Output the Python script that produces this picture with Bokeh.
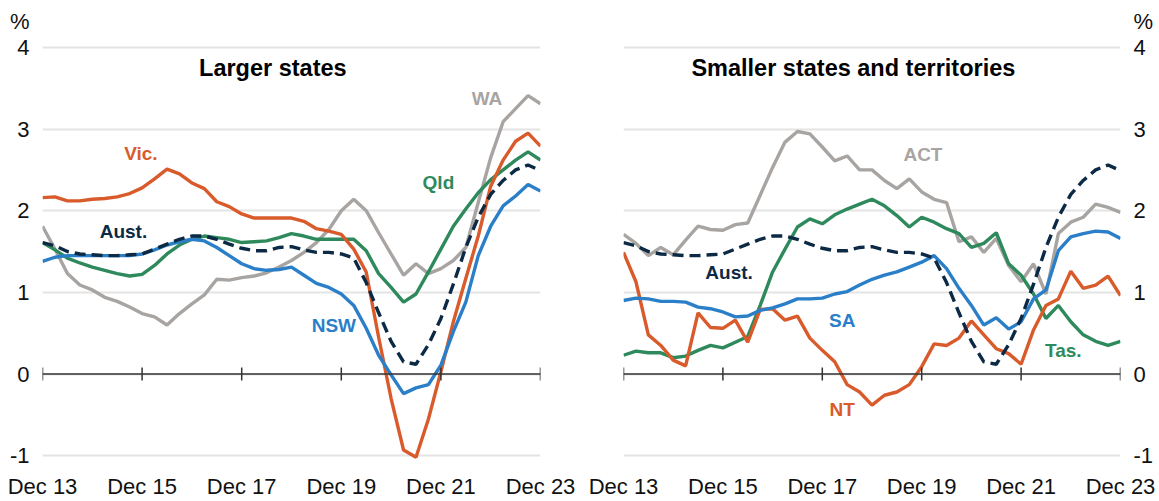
import pandas as pd
from bokeh.plotting import figure
from bokeh.layouts import row
from bokeh.models import Span, FixedTicker
from bokeh.embed import file_html
from bokeh.resources import INLINE
from bokeh.core.properties import value

# ---------------- data (quarterly, Dec 2013 - Dec 2023, %) ----------------
quarters = [str(q) for q in pd.period_range("2013Q4", "2023Q4", freq="Q")]

aust = [1.61, 1.57, 1.50, 1.47, 1.46, 1.45, 1.45, 1.46, 1.47, 1.53, 1.59,
        1.65, 1.69, 1.69, 1.65, 1.59, 1.54, 1.51, 1.51, 1.55, 1.56,
        1.52, 1.49, 1.49, 1.47, 1.42, 1.12, 0.75, 0.40, 0.15, 0.12,
        0.36, 0.68, 1.10, 1.55, 1.92, 2.20, 2.37, 2.50, 2.56, 2.49]

vic = [2.16, 2.17, 2.12, 2.12, 2.14, 2.15, 2.17, 2.21, 2.28, 2.39, 2.51,
       2.45, 2.34, 2.27, 2.11, 2.05, 1.96, 1.91, 1.91, 1.91, 1.91,
       1.87, 1.78, 1.75, 1.71, 1.53, 1.25, 0.45, -0.30, -0.93, -1.02,
       -0.55, 0.03, 0.64, 1.17, 1.69, 2.30, 2.62, 2.85, 2.95, 2.79]

nsw = [1.38, 1.43, 1.45, 1.45, 1.45, 1.45, 1.45, 1.45, 1.47, 1.52, 1.58,
       1.62, 1.65, 1.63, 1.55, 1.45, 1.35, 1.29, 1.27, 1.28, 1.31,
       1.21, 1.11, 1.06, 0.98, 0.84, 0.56, 0.23, -0.01, -0.24, -0.17,
       -0.13, 0.11, 0.52, 0.88, 1.45, 1.81, 2.06, 2.18, 2.32, 2.24]

qld = [1.61, 1.52, 1.42, 1.36, 1.31, 1.27, 1.23, 1.20, 1.22, 1.33, 1.47,
       1.58, 1.65, 1.69, 1.67, 1.65, 1.61, 1.62, 1.63, 1.67, 1.72,
       1.69, 1.65, 1.65, 1.65, 1.65, 1.51, 1.23, 1.06, 0.88, 0.98,
       1.25, 1.53, 1.81, 2.02, 2.22, 2.38, 2.50, 2.62, 2.72, 2.62]

wa = [1.81, 1.53, 1.23, 1.09, 1.03, 0.94, 0.89, 0.82, 0.74, 0.70, 0.60,
      0.74, 0.86, 0.97, 1.16, 1.15, 1.18, 1.20, 1.24, 1.31, 1.39,
      1.49, 1.61, 1.77, 2.00, 2.14, 2.00, 1.73, 1.47, 1.21, 1.35,
      1.23, 1.29, 1.39, 1.55, 2.10, 2.65, 3.09, 3.25, 3.41, 3.31]

act = [1.71, 1.60, 1.45, 1.55, 1.46, 1.64, 1.81, 1.77, 1.76, 1.83, 1.85,
       2.19, 2.53, 2.84, 2.97, 2.94, 2.78, 2.61, 2.67, 2.50, 2.50,
       2.37, 2.27, 2.39, 2.23, 2.14, 2.10, 1.62, 1.68, 1.49, 1.66,
       1.33, 1.13, 1.35, 0.98, 1.72, 1.86, 1.92, 2.08, 2.04, 1.98]

sa = [0.90, 0.93, 0.92, 0.89, 0.89, 0.88, 0.82, 0.80, 0.76, 0.70, 0.71,
      0.78, 0.81, 0.86, 0.92, 0.92, 0.93, 0.98, 1.01, 1.09, 1.16,
      1.21, 1.25, 1.31, 1.37, 1.45, 1.29, 1.05, 0.84, 0.60, 0.69,
      0.55, 0.64, 0.92, 1.03, 1.51, 1.68, 1.72, 1.75, 1.74, 1.66]

tas = [0.23, 0.28, 0.26, 0.26, 0.20, 0.22, 0.29, 0.35, 0.32, 0.39, 0.46,
       0.84, 1.25, 1.53, 1.80, 1.90, 1.84, 1.95, 2.02, 2.08, 2.14,
       2.06, 1.94, 1.80, 1.92, 1.86, 1.78, 1.72, 1.55, 1.60, 1.73,
       1.35, 1.21, 0.98, 0.68, 0.84, 0.64, 0.48, 0.40, 0.35, 0.40]

nt = [1.49, 1.13, 0.48, 0.35, 0.17, 0.10, 0.75, 0.57, 0.56, 0.66, 0.39,
      0.79, 0.80, 0.66, 0.71, 0.44, 0.29, 0.15, -0.13, -0.22, -0.38,
      -0.26, -0.22, -0.13, 0.09, 0.37, 0.35, 0.44, 0.65, 0.48, 0.31,
      0.25, 0.12, 0.54, 0.84, 0.92, 1.26, 1.05, 1.09, 1.20, 0.96]

tick_quarters = ["2013Q4", "2015Q4", "2017Q4", "2019Q4", "2021Q4", "2023Q4"]
tick_labels = ["Dec 13", "Dec 15", "Dec 17", "Dec 19", "Dec 21", "Dec 23"]
y_ticks = [-1, 0, 1, 2, 3, 4]
y_tick_labels = ["-1", "0", "1", "2", "3", "4"]
unit_label = "%"
unit_pos = 4.32

# ---------------- styles ----------------
ORANGE = "#D95B2B"
BLUE = "#2B7FC8"
GREEN = "#2E8A5C"
GREY = "#A8A4A2"
NAVY = "#0C2A45"
FONT = "Liberation Sans"
H = 501

x = list(range(len(quarters)))
tick_pos = [quarters.index(q) for q in tick_quarters]


def make_panel(side, width, bl, br, title, series, labels):
    p = figure(width=width, height=H, x_range=(0, len(quarters) - 1),
               y_range=(-1.169, 4.574), output_backend="svg",
               toolbar_location=None, y_axis_location=side,
               min_border_left=bl, min_border_right=br,
               min_border_top=0, min_border_bottom=29)
    p.outline_line_color = None
    p.background_fill_color = "white"
    p.border_fill_color = "white"

    xa = p.xaxis[0]
    xa.ticker = FixedTicker(ticks=tick_pos)
    xa.major_label_overrides = {t: l for t, l in zip(tick_pos, tick_labels)}
    xa.axis_line_color = None
    xa.major_tick_line_color = None
    xa.minor_tick_line_color = None
    xa.major_tick_out = 0
    xa.major_tick_in = 0
    xa.major_label_standoff = 4
    xa.major_label_text_font = FONT
    xa.major_label_text_font_size = "22px"
    xa.major_label_text_color = "#111111"

    ya = p.yaxis[0]
    ya.ticker = FixedTicker(ticks=y_ticks + [unit_pos])
    overrides = {t: l for t, l in zip(y_ticks, y_tick_labels)}
    overrides[unit_pos] = unit_label
    ya.major_label_overrides = overrides
    ya.axis_line_color = None
    ya.major_tick_line_color = None
    ya.minor_tick_line_color = None
    ya.major_tick_out = 0
    ya.major_tick_in = 0
    ya.major_label_standoff = 13
    ya.major_label_text_font = FONT
    ya.major_label_text_font_size = "22px"
    ya.major_label_text_color = "#111111"

    p.xgrid.grid_line_color = None
    p.ygrid.grid_line_color = "#E4E4E4"
    p.ygrid.grid_line_width = 2
    p.ygrid.ticker = FixedTicker(ticks=y_ticks)

    for vals, col, dash in series:
        p.line(x, vals, line_color=col, line_width=3.4, line_dash=dash)

    p.add_layout(Span(location=0, dimension="width", line_color="#333333",
                      line_width=1.5))
    p.segment(x0=tick_pos, y0=[-0.08] * len(tick_pos), x1=tick_pos,
              y1=[0.08] * len(tick_pos), line_color="#333333", line_width=1.5)

    lx, ly, lt, lc = labels
    p.text(x=lx, y=ly, text=lt, text_color=lc, text_font=value(FONT),
           text_font_style="bold", text_font_size="19px",
           text_align="center", text_baseline="middle")

    p.text(x=[18.5], y=[3.75], text=[title], text_color="#000000",
           text_font=value(FONT), text_font_style="bold",
           text_font_size="23.5px", text_align="center",
           text_baseline="middle")
    return p


left = make_panel(
    "left", 580, 42, 40, "Larger states",
    [(wa, GREY, "solid"), (qld, GREEN, "solid"), (vic, ORANGE, "solid"),
     (nsw, BLUE, "solid"), (aust, NAVY, "11 6")],
    ([7.9, 6.5, 31.8, 35.7, 23.4], [2.70, 1.74, 2.34, 3.37, 0.60],
     ["Vic.", "Aust.", "Qld", "WA", "NSW"],
     [ORANGE, NAVY, GREEN, GREY, BLUE]))

right = make_panel(
    "right", 579, 43, 39, "Smaller states and territories",
    [(act, GREY, "solid"), (tas, GREEN, "solid"), (nt, ORANGE, "solid"),
     (sa, BLUE, "solid"), (aust, NAVY, "11 6")],
    ([24.1, 8.5, 17.6, 35.4, 17.6], [2.69, 1.24, 0.66, 0.29, -0.43],
     ["ACT", "Aust.", "SA", "Tas.", "NT"],
     [GREY, NAVY, BLUE, GREEN, ORANGE]))

layout = row(left, right)
open("out.html", "w").write(file_html(layout, INLINE))
